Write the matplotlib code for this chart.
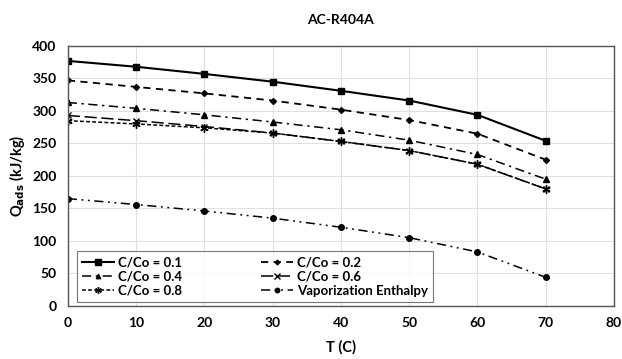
import matplotlib.pyplot as plt
import numpy as np

plt.rcParams['font.family'] = ['Lato', 'DejaVu Sans']
plt.rcParams['font.weight'] = 'bold'

temps = [0, 10, 20, 30, 40, 50, 60, 70]
q_01 = [377, 368, 357, 345, 331, 316, 294, 254]
q_02 = [347, 337, 327, 316, 302, 286, 265, 225]
q_04 = [313, 304, 294, 283, 271, 255, 233, 195]
q_06 = [293, 285, 276, 266, 253, 239, 218, 180]
q_08 = [285, 280, 274, 266, 253, 239, 218, 180]
q_vap = [165, 156, 146, 135, 121, 105, 83, 44]

fig = plt.figure(figsize=(6.22, 3.59), dpi=100)
ax = fig.add_axes([0.109, 0.148, 0.878, 0.724])

l1, = ax.plot(temps, q_01, color='black', lw=1.5, ls='-', marker='s', ms=5, label='C/Co = 0.1')
l2, = ax.plot(temps, q_02, color='black', lw=1.3, ls=(0, (4, 3)), marker='D', ms=3, label='C/Co = 0.2')
l4, = ax.plot(temps, q_04, color='black', lw=1.1, ls=(0, (6, 3, 1.5, 3)), marker='^', ms=4, label='C/Co = 0.4')
l6, = ax.plot(temps, q_06, color='black', lw=1.1, ls=(0, (8, 3)), marker='x', ms=5, label='C/Co = 0.6')
l8, = ax.plot(temps, q_08, color='black', lw=1.1, ls=(0, (2.5, 1.5)), marker=(6, 2, 0), ms=6, label='C/Co = 0.8')
lv, = ax.plot(temps, q_vap, color='black', lw=1.1, ls=(0, (6, 3, 1.2, 3, 1.2, 3)), marker='o', ms=4,
              label='Vaporization Enthalpy')

ax.set_xlim(0, 80)
ax.set_ylim(0, 400)
ax.set_xticks(np.arange(0, 81, 10))
ax.set_yticks(np.arange(0, 401, 50))
ax.grid(True, color='#e0e0e0', lw=0.8)
ax.tick_params(length=0, labelsize=10, pad=8)
for s in ax.spines.values():
    s.set_color('#555555')
    s.set_linewidth(1.0)

ax.set_title('AC-R404A', fontsize=10, fontweight='bold', pad=16)
ax.set_xlabel('T (C)', fontsize=10.5, fontweight='bold', labelpad=8)
ax.set_ylabel(r'Q$_{\mathbf{ads}}$ (kJ/kg)', fontsize=10.5, fontweight='bold', labelpad=4)

# row-major order like the original
handles = [l1, l4, l8, l2, l6, lv]
leg = ax.legend(handles=handles, labels=[h.get_label() for h in handles],
                loc='lower left', ncol=2, fontsize=9.5, frameon=True, fancybox=False,
                edgecolor='#555555', borderaxespad=0.3, handlelength=2.4,
                columnspacing=6.0, labelspacing=0.15, handletextpad=0.3,
                markerscale=0.8, bbox_to_anchor=(0.01, 0.0))
leg.get_frame().set_linewidth(0.8)

fig.savefig('out.png', dpi=100)
